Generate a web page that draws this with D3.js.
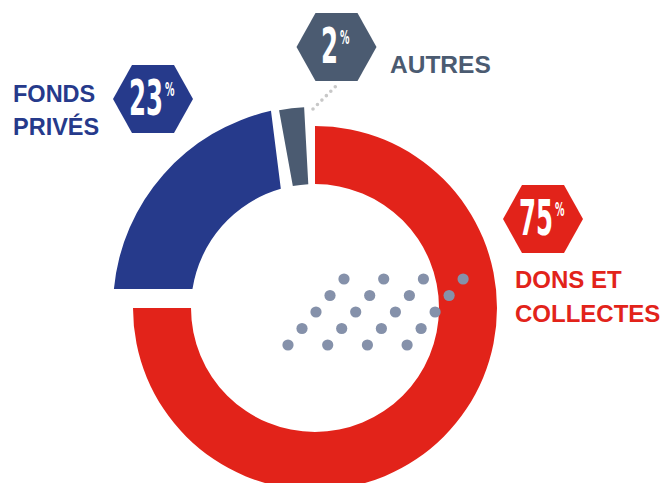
<!DOCTYPE html>
<html>
<head>
<meta charset="utf-8">
<script src="https://cdn.jsdelivr.net/npm/d3@7"></script>
<style>
  html, body { margin: 0; padding: 0; background: #ffffff; }
  svg { display: block; }
</style>
</head>
<body>
<svg id="chart" width="663" height="483"></svg>
<script>
// ---- data ----
const categories = ["DONS ET COLLECTES", "FONDS PRIVÉS", "AUTRES"];
const values = [75, 23, 2];
const labelLines = [["DONS ET", "COLLECTES"], ["FONDS", "PRIVÉS"], ["AUTRES"]];
const colors = ["#e2231a", "#263a8b", "#4b5b71"];

// ---- layout ----
const W = 663, H = 483;
const cx = 315, cy = 308;
const svg = d3.select("#chart");
const g = svg.append("g").attr("transform", `translate(${cx},${cy})`);

const pie = d3.pie().sort(null).value(d => d)(values);

const arcStyle = [
  { inner: 124, outer: 182, pad: 0, rot: 0 },
  { inner: 124, outer: 202, pad: 0.19, rot: 0 },
  { inner: 124, outer: 201, pad: 0, rot: -3.1 }
];

pie.forEach((p, i) => {
  const s = arcStyle[i];
  const a = d3.arc()
    .innerRadius(s.inner)
    .outerRadius(s.outer)
    .padAngle(s.pad)
    .padRadius(200);
  g.append("path")
    .attr("d", a(p))
    .attr("transform", `rotate(${s.rot})`)
    .attr("fill", colors[i]);
});

// decorative dot pattern
const dots = g.append("g").attr("fill", "#8591aa");
d3.range(5).forEach(r => {
  d3.range(4).forEach(c => {
    dots.append("circle")
      .attr("cx", 29 + c * 39.7 - r * 14)
      .attr("cy", -29 + r * 16.5)
      .attr("r", 5.6);
  });
});

// dotted leader line for AUTRES
svg.append("line")
  .attr("x1", 313).attr("y1", 109)
  .attr("x2", 336).attr("y2", 86)
  .attr("stroke", "#c8c8c8")
  .attr("stroke-width", 3.6)
  .attr("stroke-linecap", "round")
  .attr("stroke-dasharray", "0 6.3");

// hexagon badges + labels
const badge = [
  { hx: 543, hy: 219, lx: 515, ly: 288, lh: 34, fs: 24 },
  { hx: 153, hy: 99, lx: 13, ly: 102, lh: 33, fs: 23.5 },
  { hx: 336.5, hy: 47, lx: 390, ly: 73, lh: 34, fs: 24.5 }
];
const hexPts = [[-40, 0], [-21, -34], [21, -34], [40, 0], [21, 34], [-21, 34]];
const numFont = "'Liberation Sans Narrow', 'DejaVu Sans Condensed', 'Liberation Sans', sans-serif";

values.forEach((v, i) => {
  const b = badge[i];
  const hg = svg.append("g").attr("transform", `translate(${b.hx},${b.hy})`);
  hg.append("polygon")
    .attr("points", hexPts.map(p => p.join(",")).join(" "))
    .attr("fill", colors[i]);
  const digits = String(v);
  const dw = 17 * digits.length;
  const total = dw + 14;
  const x0 = -total / 2;
  const t = hg.append("text")
    .attr("x", 0).attr("y", 0)
    .attr("font-family", numFont)
    .attr("font-weight", "bold")
    .attr("fill", "#ffffff");
  t.append("tspan").attr("font-size", 49).text(digits);
  const pct = t.append("tspan").attr("font-size", 19).attr("dy", -19).text("%");
  const w = t.node().getSubStringLength(0, digits.length);
  const sc = dw / w;
  pct.attr("dx", 2 / sc);
  t.attr("transform", `translate(${x0},16) scale(${sc},1)`);

  const lt = svg.append("text")
    .attr("font-family", "'Liberation Sans', Arial, sans-serif")
    .attr("font-weight", "bold")
    .attr("font-size", b.fs)
    .attr("fill", colors[i]);
  labelLines[i].forEach((line, k) => {
    lt.append("tspan")
      .attr("x", b.lx)
      .attr("y", b.ly + k * b.lh)
      .text(line);
  });
});
</script>
</body>
</html>
